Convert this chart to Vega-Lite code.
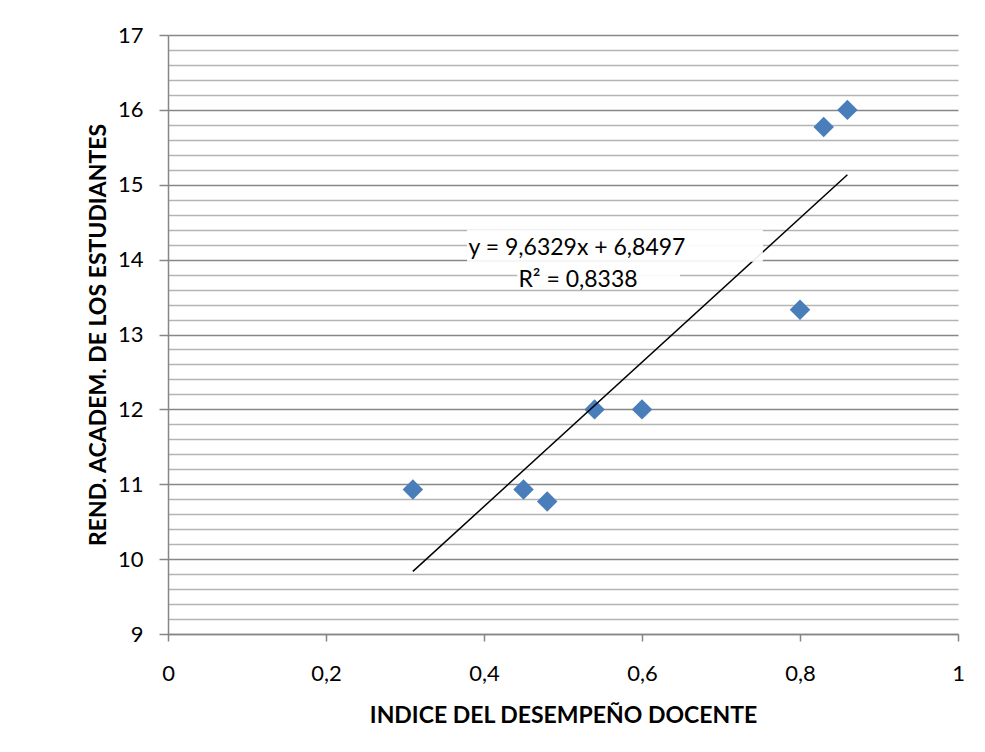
{
  "$schema": "https://vega.github.io/schema/vega-lite/v6.json",
  "width": 790,
  "height": 599,
  "autosize": {"type": "none"},
  "padding": {"left": 168, "top": 35, "right": 27, "bottom": 118},
  "background": "white",
  "config": {
    "view": {"stroke": null},
    "font": "Lato",
    "axis": {"labelFont": "Lato", "titleFont": "Lato", "labelColor": "#000000", "titleColor": "#000000"}
  },
  "datasets": {
    "pts": [
      {"x": 0.31, "y": 10.93},
      {"x": 0.45, "y": 10.93},
      {"x": 0.48, "y": 10.77},
      {"x": 0.54, "y": 12.0},
      {"x": 0.60, "y": 12.0},
      {"x": 0.80, "y": 13.33},
      {"x": 0.83, "y": 15.77},
      {"x": 0.86, "y": 16.0}
    ],
    "trend": [
      {"x": 0.31, "y": 9.836},
      {"x": 0.86, "y": 15.134}
    ],
    "boxes": [
      {"x": 0.3785, "x2": 0.753, "y": 14.40, "y2": 13.97},
      {"x": 0.442, "x2": 0.648, "y": 13.86, "y2": 13.62}
    ],
    "labels": [
      {"x": 0.5177, "y": 14.155, "text": "y = 9,6329x + 6,8497"},
      {"x": 0.519, "y": 13.728, "text": "R² = 0,8338"}
    ]
  },
  "resolve": {"axis": {"y": "independent"}},
  "layer": [
    {
      "data": {"name": "pts"},
      "mark": {"type": "point", "shape": "diamond", "filled": true, "size": 420, "color": "#4a7ebb", "opacity": 1},
      "encoding": {
        "x": {"field": "x", "type": "quantitative", "scale": {"domain": [0, 1], "nice": false, "zero": false},
          "axis": {"values": [0, 0.2, 0.4, 0.6, 0.8, 1], "labelExpr": "replace(format(datum.value, '.1~f'), '.', ',')",
            "grid": false, "domainColor": "#868686", "domainWidth": 1.5, "tickColor": "#868686", "tickWidth": 1.5, "tickSize": 7,
            "labelFontSize": 22, "labelPadding": 22, "labelFlush": false,
            "title": "INDICE DEL DESEMPEÑO DOCENTE", "titleFontSize": 23, "titleFontWeight": "bold", "titlePadding": 20}},
        "y": {"field": "y", "type": "quantitative", "scale": {"domain": [9, 17], "nice": false, "zero": false},
          "axis": {"values": [9, 10, 11, 12, 13, 14, 15, 16, 17], "grid": true, "gridColor": "#878787", "gridWidth": 1.5,
            "domainColor": "#868686", "domainWidth": 1.5, "tickColor": "#868686", "tickWidth": 1.5, "tickSize": 9,
            "labelFontSize": 22, "labelPadding": 16, "labelFlush": false,
            "title": "REND. ACADEM. DE LOS ESTUDIANTES", "titleFontSize": 23, "titleFontWeight": "bold", "titlePadding": 7}}
      }
    },
    {
      "data": {"name": "trend"},
      "mark": {"type": "line", "color": "#000000", "strokeWidth": 1.5},
      "encoding": {
        "x": {"field": "x", "type": "quantitative", "title": "INDICE DEL DESEMPEÑO DOCENTE"},
        "y": {"field": "y", "type": "quantitative",
          "axis": {"orient": "right", "values": [9.2, 9.4, 9.6, 9.8, 10.2, 10.4, 10.6, 10.8, 11.2, 11.4, 11.6, 11.8, 12.2, 12.4, 12.6, 12.8, 13.2, 13.4, 13.6, 13.8, 14.2, 14.4, 14.6, 14.8, 15.2, 15.4, 15.6, 15.8, 16.2, 16.4, 16.6, 16.8],
            "grid": true, "gridColor": "#b4b4b4", "gridWidth": 1.3, "labels": false, "ticks": false, "domain": false, "title": null}}
      }
    },
    {
      "data": {"name": "boxes"},
      "mark": {"type": "rect", "color": "white", "opacity": 0.92},
      "encoding": {
        "x": {"field": "x", "type": "quantitative", "title": "INDICE DEL DESEMPEÑO DOCENTE"},
        "x2": {"field": "x2"},
        "y": {"field": "y", "type": "quantitative", "axis": null},
        "y2": {"field": "y2"}
      }
    },
    {
      "data": {"name": "labels"},
      "mark": {"type": "text", "fontSize": 23, "font": "Lato", "color": "#000000", "align": "center", "baseline": "middle"},
      "encoding": {
        "x": {"field": "x", "type": "quantitative", "title": "INDICE DEL DESEMPEÑO DOCENTE"},
        "y": {"field": "y", "type": "quantitative", "axis": null},
        "text": {"field": "text"}
      }
    }
  ]
}
